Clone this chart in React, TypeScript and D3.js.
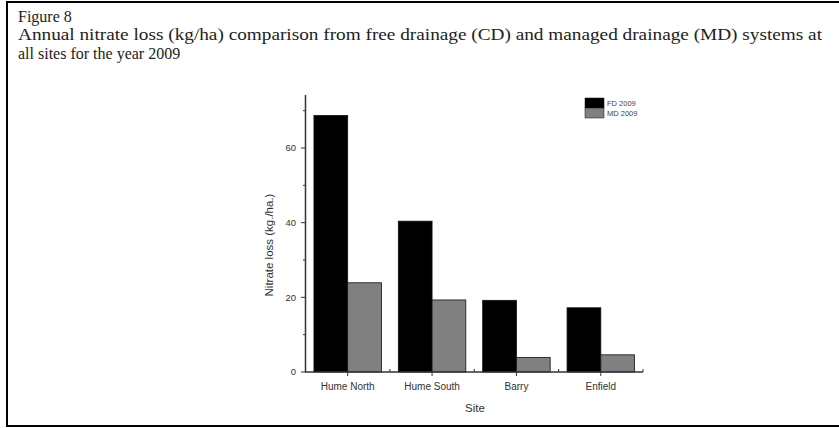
import React from "react";
import * as d3 from "d3";

const sites = ["Hume North", "Hume South", "Barry", "Enfield"];
const seriesNames = ["FD 2009", "MD 2009"];
const fdValues = [68.7, 40.4, 19.2, 17.2];
const mdValues = [23.9, 19.3, 3.9, 4.6];
const majorTicks = [0, 20, 40, 60];
const minorTicks = [10, 30, 50, 70];
const colors = ["#000000", "#808080"];

const W = 839;
const H = 428;

export default function App() {
  const x0 = d3.scaleBand<string>().domain(sites).range([305.5, 643]).paddingInner(0.2).paddingOuter(0.1);
  const x1 = d3.scaleBand<string>().domain(seriesNames).range([0, x0.bandwidth()]);
  const y = d3.scaleLinear().domain([0, 74.2]).range([372, 95]);
  const series = [fdValues, mdValues];
  const sans = "'Liberation Sans', Arial, sans-serif";
  const serif = "'Liberation Serif', 'Times New Roman', serif";
  const step = x0.step();
  const boundaries = sites.map((s) => (x0(s) as number) - (step - x0.bandwidth()) / 2 + step);

  return (
    <svg width={W} height={H} style={{ position: "absolute", left: 0, top: 0 }}>
      <rect x={0} y={0} width={W} height={H} fill="#fff" />
      <rect x={7} y={2} width={835} height={424} fill="none" stroke="#000" strokeWidth={2} />
      <text x={18} y={22} fontFamily={serif} fontSize={16} fill="#222">Figure 8</text>
      <text x={18} y={40} fontFamily={serif} fontSize={16} fill="#222" textLength={804} lengthAdjust="spacingAndGlyphs">
        Annual nitrate loss (kg/ha) comparison from free drainage (CD) and managed drainage (MD) systems at
      </text>
      <text x={18} y={59} fontFamily={serif} fontSize={16} fill="#222">all sites for the year 2009</text>

      {sites.map((s, i) =>
        series.map((vals, j) => (
          <rect
            key={s + j}
            x={(x0(s) as number) + (x1(seriesNames[j]) as number)}
            y={y(vals[i])}
            width={x1.bandwidth()}
            height={y(0) - y(vals[i])}
            fill={colors[j]}
            stroke="#111"
            strokeWidth={0.8}
          />
        ))
      )}

      {/* y axis */}
      <line x1={305.5} x2={305.5} y1={95} y2={372} stroke="#333" strokeWidth={1.5} />
      {majorTicks.map((t) => (
        <g key={t}>
          <line x1={301} x2={305.5} y1={y(t)} y2={y(t)} stroke="#333" strokeWidth={1} />
          <text x={296} y={y(t)} dy="0.35em" textAnchor="end" fontFamily={sans} fontSize={9.5} fill="#333">{t}</text>
        </g>
      ))}
      {minorTicks.map((t) => (
        <line key={t} x1={303} x2={305.5} y1={y(t)} y2={y(t)} stroke="#333" strokeWidth={1} />
      ))}

      {/* x axis */}
      <line x1={305} x2={643} y1={372} y2={372} stroke="#333" strokeWidth={1.5} />
      {sites.map((s) => (
        <g key={s}>
          <line x1={(x0(s) as number) + x0.bandwidth() / 2} x2={(x0(s) as number) + x0.bandwidth() / 2} y1={372} y2={376} stroke="#333" strokeWidth={1} />
          <text x={(x0(s) as number) + x0.bandwidth() / 2} y={390} textAnchor="middle" fontFamily={sans} fontSize={10} fill="#333">{s}</text>
        </g>
      ))}
      {boundaries.map((b, i) => (
        <line key={i} x1={b} x2={b} y1={369} y2={372} stroke="#333" strokeWidth={1} />
      ))}

      <text x={475} y={412} textAnchor="middle" fontFamily={sans} fontSize={11.5} fill="#333">Site</text>
      <text transform="translate(273,245) rotate(-90)" textAnchor="middle" fontFamily={sans} fontSize={11.5} fill="#333">
        Nitrate loss (kg./ha.)
      </text>

      {/* legend */}
      {seriesNames.map((n, j) => (
        <g key={n}>
          <rect x={585} y={98 + j * 10} width={19} height={10} fill={colors[j]} stroke="#111" strokeWidth={0.5} />
          <text x={607} y={103 + j * 10} dy="0.35em" fontFamily={sans} fontSize={7.5} fill="#444">{n}</text>
        </g>
      ))}
    </svg>
  );
}
